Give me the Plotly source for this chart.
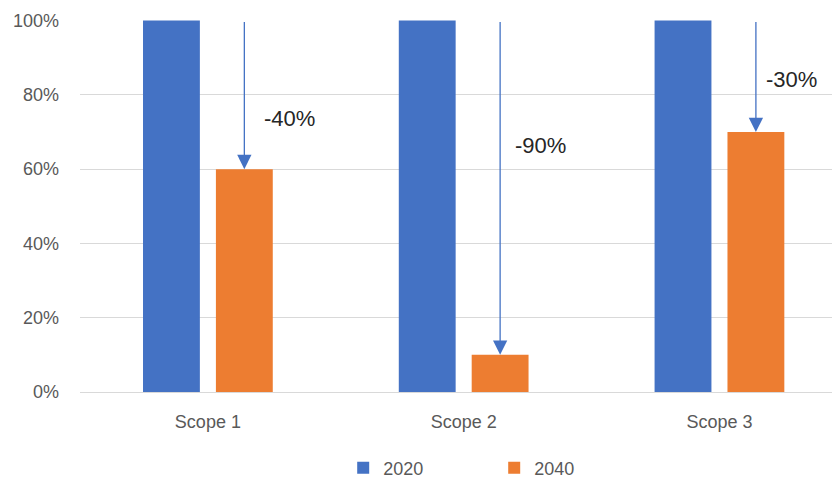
import plotly.graph_objects as go

categories = ["Scope 1", "Scope 2", "Scope 3"]
values_2020 = [1.0, 1.0, 1.0]
values_2040 = [0.6, 0.1, 0.7]
label_y = [0.737, 0.664, 0.842]
label_xshift = [18, 13, 8]

BLUE = "#4472C4"
ORANGE = "#ED7D31"
FONT = "Liberation Sans"
bargap = 0.43
bargroupgap = 0.22

fig = go.Figure()
fig.add_trace(go.Bar(name="2020", x=categories, y=values_2020, marker_color=BLUE,
                     marker_line_width=0))
fig.add_trace(go.Bar(name="2040", x=categories, y=values_2040, marker_color=ORANGE,
                     marker_line_width=0))

slot = (1 - bargap) / 2
for i, (a, b) in enumerate(zip(values_2020, values_2040)):
    xc = i + slot / 2
    fig.add_annotation(x=xc, y=b, ax=xc, ay=a, xref="x", yref="y", axref="x", ayref="y",
                       text="", showarrow=True, arrowhead=2, arrowsize=2.2,
                       arrowwidth=1.3, arrowcolor=BLUE, standoff=0)
    pct = (b - a) / a
    fig.add_annotation(x=xc, y=label_y[i], xref="x", yref="y", text=f"{pct:.0%}",
                       showarrow=False, xanchor="left", yanchor="middle",
                       xshift=label_xshift[i],
                       font=dict(family=FONT, size=22, color="#262626"))

fig.update_layout(
    width=832, height=478,
    margin=dict(l=80, r=0, t=20, b=86, autoexpand=False),
    paper_bgcolor="white", plot_bgcolor="white",
    barmode="group", bargap=bargap, bargroupgap=bargroupgap,
    font=dict(family=FONT, size=18, color="#595959"),
    showlegend=True,
    legend=dict(orientation="h", x=0.35, xanchor="left",
                yref="container", y=10 / 478, yanchor="middle",
                entrywidth=106, entrywidthmode="pixels",
                font=dict(family=FONT, size=18, color="#595959")),
    xaxis=dict(type="category", range=[-0.5, 2.44], showgrid=False, showline=False,
               ticks="", ticklabelstandoff=17),
    yaxis=dict(range=[0, 1.0015], tickvals=[0, 0.2, 0.4, 0.6, 0.8, 1.0], tickformat=".0%",
               showgrid=True, gridcolor="#D9D9D9", gridwidth=1,
               zeroline=True, zerolinecolor="#D9D9D9", zerolinewidth=1,
               showline=False, ticks="", ticklabelstandoff=20),
)

fig.write_html("out.html")
